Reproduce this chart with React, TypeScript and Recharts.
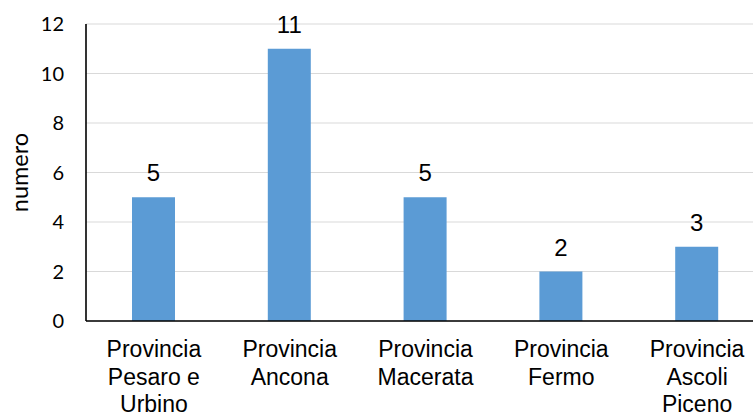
import { BarChart, Bar, XAxis, YAxis, CartesianGrid, LabelList } from "recharts";

const CATEGORIES = [
  "Provincia\nPesaro e\nUrbino",
  "Provincia\nAncona",
  "Provincia\nMacerata",
  "Provincia\nFermo",
  "Provincia\nAscoli\nPiceno",
];
const VALUES = [5, 11, 5, 2, 3];
const Y_TICKS = [0, 2, 4, 6, 8, 10, 12];

const DATA = CATEGORIES.map((name, i) => ({ name, numero: VALUES[i] }));

const ARIAL = "'Liberation Sans', Arial, sans-serif";
const CALIBRI = "Lato, 'Open Sans', sans-serif";

const CategoryTick = ({ x, y, payload }: any) => {
  const lines = String(payload.value).split("\n");
  return (
    <text x={x} y={y} textAnchor="middle" fill="#000" fontFamily={ARIAL} fontSize={23}>
      {lines.map((line, i) => (
        <tspan key={i} x={x} dy={i === 0 ? 36 : 27.5}>
          {line}
        </tspan>
      ))}
    </text>
  );
};

export default function App() {
  return (
    <div
      style={{
        position: "absolute",
        left: 0,
        top: 0,
        width: 753,
        height: 414,
        overflow: "hidden",
        background: "#fff",
      }}
    >
      <BarChart width={765} height={414} data={DATA} margin={{ top: 24, right: 0, left: 0, bottom: 0 }}>
        <CartesianGrid vertical={false} stroke="#d9d9d9" strokeWidth={1.2} />
        <XAxis
          dataKey="name"
          interval={0}
          height={93}
          tickLine={false}
          tickSize={0}
          tickMargin={0}
          axisLine={{ stroke: "#000", strokeWidth: 1.6 }}
          tick={<CategoryTick />}
        />
        <YAxis
          width={86}
          domain={[0, 12]}
          ticks={Y_TICKS}
          tickLine={false}
          tickSize={0}
          tickMargin={22}
          axisLine={{ stroke: "#000", strokeWidth: 1.6 }}
          tick={{ fill: "#000", fontSize: 20, fontFamily: CALIBRI }}
          label={{
            value: "numero",
            angle: -90,
            position: "insideLeft",
            offset: 20,
            fill: "#000",
            fontSize: 23.5,
            fontFamily: CALIBRI,
            style: { textAnchor: "middle" },
          }}
        />
        <Bar dataKey="numero" fill="#5b9bd5" barSize={43} isAnimationActive={false}>
          <LabelList
            dataKey="numero"
            position="top"
            offset={16}
            fill="#000"
            fontSize={24}
            fontFamily={ARIAL}
          />
        </Bar>
      </BarChart>
    </div>
  );
}
